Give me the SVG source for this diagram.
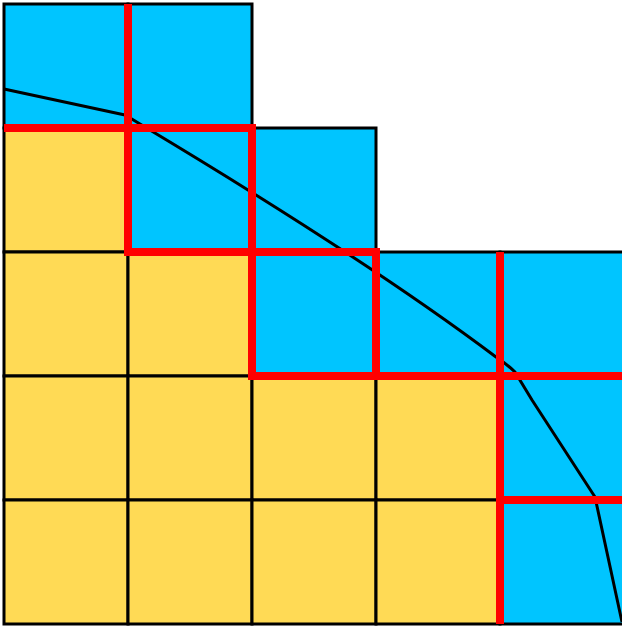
<svg xmlns="http://www.w3.org/2000/svg" width="622" height="627" viewBox="0 0 622 627">
<style>
.b{fill:#00c5ff;stroke:#000;stroke-width:3}
.y{fill:#ffda55;stroke:#000;stroke-width:3}
.r{stroke:#ff0000;stroke-width:8;fill:none}
.c{stroke:#000;stroke-width:3;fill:none;stroke-linejoin:round}
</style>
<rect width="622" height="627" fill="#fff"/>
<g id="cells">
<rect class="b" x="4" y="4" width="124" height="124"/>
<rect class="b" x="128" y="4" width="124" height="124"/>
<rect class="y" x="4" y="128" width="124" height="124"/>
<rect class="b" x="128" y="128" width="124" height="124"/>
<rect class="b" x="252" y="128" width="124" height="124"/>
<rect class="y" x="4" y="252" width="124" height="124"/>
<rect class="y" x="128" y="252" width="124" height="124"/>
<rect class="b" x="252" y="252" width="124" height="124"/>
<rect class="b" x="376" y="252" width="124" height="124"/>
<rect class="b" x="500" y="252" width="124" height="124"/>
<rect class="y" x="4" y="376" width="124" height="124"/>
<rect class="y" x="128" y="376" width="124" height="124"/>
<rect class="y" x="252" y="376" width="124" height="124"/>
<rect class="y" x="376" y="376" width="124" height="124"/>
<rect class="b" x="500" y="376" width="124" height="124"/>
<rect class="y" x="4" y="500" width="124" height="124"/>
<rect class="y" x="128" y="500" width="124" height="124"/>
<rect class="y" x="252" y="500" width="124" height="124"/>
<rect class="y" x="376" y="500" width="124" height="124"/>
<rect class="b" x="500" y="500" width="124" height="124"/>
</g>
<g id="curve">
<path class="c" d="M4,89 L125,115 Q132,119 140,124 Q367,260 496,357 Q508,365 515,372 L532,400 L595,497 L622,622"/>
</g>
<g id="boundary">
<line class="r" x1="128" y1="4" x2="128" y2="256"/>
<line class="r" x1="4" y1="128" x2="256" y2="128"/>
<line class="r" x1="252" y1="124" x2="252" y2="380"/>
<line class="r" x1="124" y1="252" x2="380" y2="252"/>
<line class="r" x1="376" y1="248" x2="376" y2="380"/>
<line class="r" x1="248" y1="376" x2="622" y2="376"/>
<line class="r" x1="500" y1="252" x2="500" y2="624"/>
<line class="r" x1="500" y1="500" x2="622" y2="500"/>
</g>
</svg>
